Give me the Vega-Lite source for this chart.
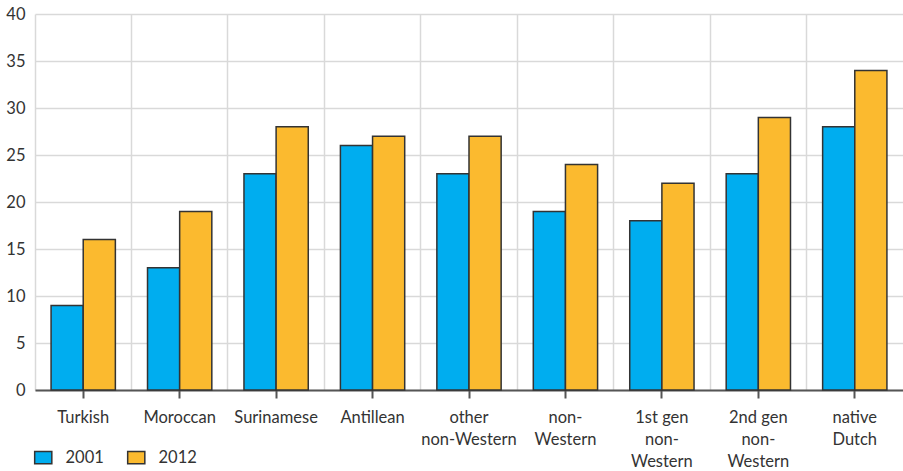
{
  "$schema": "https://vega.github.io/schema/vega-lite/v6.json",
  "autosize": "none",
  "width": 868,
  "height": 376,
  "padding": {"left": 35, "top": 14, "right": 0, "bottom": 81},
  "background": "white",
  "config": {
    "font": "Lato",
    "view": {"stroke": null},
    "axis": {"labelFont": "Lato", "labelFontSize": 16.5, "labelColor": "#333333", "gridColor": "#d9d9d9", "gridWidth": 1.5}
  },
  "data": {"values": [
    {"group": "Turkish", "year": "2001", "value": 9},
    {"group": "Turkish", "year": "2012", "value": 16},
    {"group": "Moroccan", "year": "2001", "value": 13},
    {"group": "Moroccan", "year": "2012", "value": 19},
    {"group": "Surinamese", "year": "2001", "value": 23},
    {"group": "Surinamese", "year": "2012", "value": 28},
    {"group": "Antillean", "year": "2001", "value": 26},
    {"group": "Antillean", "year": "2012", "value": 27},
    {"group": "other non-Western", "year": "2001", "value": 23},
    {"group": "other non-Western", "year": "2012", "value": 27},
    {"group": "non-Western", "year": "2001", "value": 19},
    {"group": "non-Western", "year": "2012", "value": 24},
    {"group": "1st gen non-Western", "year": "2001", "value": 18},
    {"group": "1st gen non-Western", "year": "2012", "value": 22},
    {"group": "2nd gen non-Western", "year": "2001", "value": 23},
    {"group": "2nd gen non-Western", "year": "2012", "value": 29},
    {"group": "native Dutch", "year": "2001", "value": 28},
    {"group": "native Dutch", "year": "2012", "value": 34}
  ]},
  "layer": [
    {
      "mark": {"type": "bar", "opacity": 0},
      "encoding": {
        "x": {"field": "group", "type": "nominal", "sort": null,
          "axis": {"title": null, "orient": "top", "grid": true, "bandPosition": 0, "labels": false, "ticks": false, "domain": false}}
      }
    },
    {
      "mark": {"type": "bar", "stroke": "#333333", "strokeWidth": 1.5},
      "encoding": {
        "x": {"field": "group", "type": "nominal", "sort": null,
          "scale": {"paddingInner": 0, "paddingOuter": 0},
          "axis": {"title": null, "orient": "bottom", "grid": false, "labelAngle": 0,
            "domainColor": "#555555", "domainWidth": 2, "tickColor": "#555555", "tickWidth": 2, "tickSize": 8,
            "labelPadding": 11, "labelLineHeight": 22,
            "labelExpr": "datum.label == 'other non-Western' ? ['other', 'non-Western'] : datum.label == 'non-Western' ? ['non-', 'Western'] : datum.label == '1st gen non-Western' ? ['1st gen', 'non-', 'Western'] : datum.label == '2nd gen non-Western' ? ['2nd gen', 'non-', 'Western'] : datum.label == 'native Dutch' ? ['native', 'Dutch'] : datum.label"}},
        "xOffset": {"field": "year", "type": "nominal", "scale": {"paddingInner": 0, "paddingOuter": 0.5}},
        "y": {"field": "value", "type": "quantitative",
          "scale": {"domain": [0, 40]},
          "axis": {"title": null, "values": [0,5,10,15,20,25,30,35,40], "domain": false, "ticks": false, "labelPadding": 10, "grid": true}},
        "color": {"field": "year", "type": "nominal",
          "scale": {"domain": ["2001", "2012"], "range": ["#00adef", "#fbba2f"]},
          "legend": {"title": null, "orient": "none", "legendX": 0, "legendY": 435, "direction": "horizontal",
            "symbolType": "M-1.4,-1L1.4,-1L1.4,1L-1.4,1Z", "symbolSize": 150, "symbolStrokeColor": "#333333", "symbolStrokeWidth": 1.5,
            "labelFontSize": 16.5, "labelColor": "#333333", "labelFont": "Lato", "columnPadding": 20, "labelOffset": 14}}
      }
    }
  ],
  "resolve": {"axis": {"x": "independent"}}
}
